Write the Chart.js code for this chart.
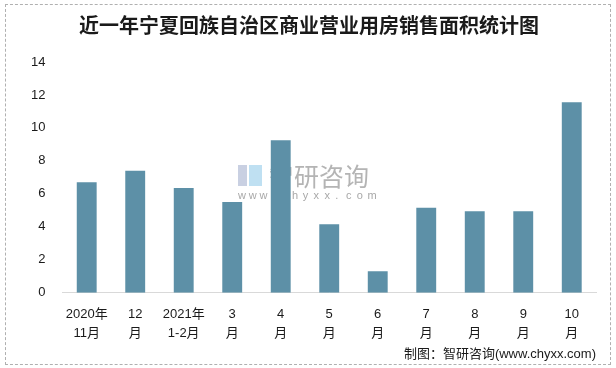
<!DOCTYPE html>
<html lang="zh">
<head>
    <meta charset="UTF-8">
    <title>近一年宁夏回族自治区商业营业用房销售面积统计图</title>
    <script src="https://cdn.jsdelivr.net/npm/chart.js"></script>
    <style>
        body {
            margin: 0;
            background: #ffffff;
        }
        .frame {
            position: absolute;
            left: 5px;
            top: 4px;
            width: 604px;
            height: 359px;
            border: 1px dashed #b0b0b0;
        }
        .wrap {
            position: absolute;
            left: 0;
            top: 0;
            width: 616px;
            height: 368px;
        }
    </style>
</head>
<body>
    <div class="frame"></div>
    <div class="wrap">
        <canvas id="myChart" width="616" height="368"></canvas>
    </div>

    <script>
        // data
        var months = [
            ['2020年', '11月'], ['12', '月'], ['2021年', '1-2月'], ['3', '月'], ['4', '月'],
            ['5', '月'], ['6', '月'], ['7', '月'], ['8', '月'], ['9', '月'], ['10', '月']
        ];
        var area = [6.7, 7.4, 6.35, 5.5, 9.25, 4.15, 1.3, 5.15, 4.95, 4.95, 11.55];
        var yTicks = [0, 2, 4, 6, 8, 10, 12, 14];

        var fontFamily = '"Liberation Sans", "Noto Sans CJK SC", sans-serif';

        // watermark in the middle of the plot, under the bars
        var watermark = {
            id: 'watermark',
            beforeDatasetsDraw: function(chart) {
                var ctx = chart.ctx;
                ctx.save();
                ctx.fillStyle = '#c9d0e2';
                ctx.fillRect(238, 165, 9, 21);
                ctx.fillStyle = '#bfe0f2';
                ctx.fillRect(249, 165, 13, 21);
                ctx.fillStyle = '#b4b4b4';
                ctx.font = '25px "Noto Sans CJK SC"';
                ctx.textBaseline = 'middle';
                ctx.fillText('智研咨询', 269, 176);
                ctx.font = '11px "Liberation Sans"';
                ctx.fillStyle = '#a8a8a8';
                var s = 'www.chyxx.com';
                for (var i = 0; i < s.length; i++) {
                    ctx.fillText(s[i], 238 + i * 10.8, 196);
                }
                ctx.restore();
            }
        };

        var ctx = document.getElementById('myChart').getContext('2d');
        var myChart = new Chart(ctx, {
            type: 'bar',
            data: {
                labels: months,
                datasets: [{
                    data: area,
                    backgroundColor: '#5d90a7',
                    barPercentage: 0.82,
                    categoryPercentage: 0.5
                }]
            },
            options: {
                responsive: false,
                animation: false,
                layout: {
                    padding: { left: 22, right: 20, top: 4, bottom: 2 }
                },
                plugins: {
                    legend: { display: false },
                    tooltip: { enabled: false },
                    title: {
                        display: true,
                        text: '近一年宁夏回族自治区商业营业用房销售面积统计图',
                        color: '#1a1a1a',
                        font: { family: '"Noto Sans CJK SC"', size: 20, weight: 'bold' },
                        padding: { top: 9, bottom: 25 }
                    },
                    subtitle: {
                        display: true,
                        position: 'bottom',
                        align: 'end',
                        text: '制图：智研咨询(www.chyxx.com)',
                        color: '#1a1a1a',
                        font: { family: fontFamily, size: 13 },
                        padding: { top: 0, bottom: 4 }
                    }
                },
                scales: {
                    x: {
                        grid: { display: false },
                        border: { color: '#d9d9d9', width: 1 },
                        ticks: {
                            color: '#1a1a1a',
                            maxRotation: 0,
                            autoSkip: false,
                            padding: 4,
                            font: { family: fontFamily, size: 13, lineHeight: 1.45 }
                        }
                    },
                    y: {
                        min: 0,
                        max: 14,
                        afterBuildTicks: function(axis) {
                            axis.ticks = yTicks.map(function(v) { return { value: v }; });
                        },
                        grid: { display: false },
                        border: { display: false },
                        ticks: {
                            color: '#1a1a1a',
                            padding: 9,
                            font: { family: fontFamily, size: 13 }
                        }
                    }
                }
            },
            plugins: [watermark]
        });
    </script>
</body>
</html>
